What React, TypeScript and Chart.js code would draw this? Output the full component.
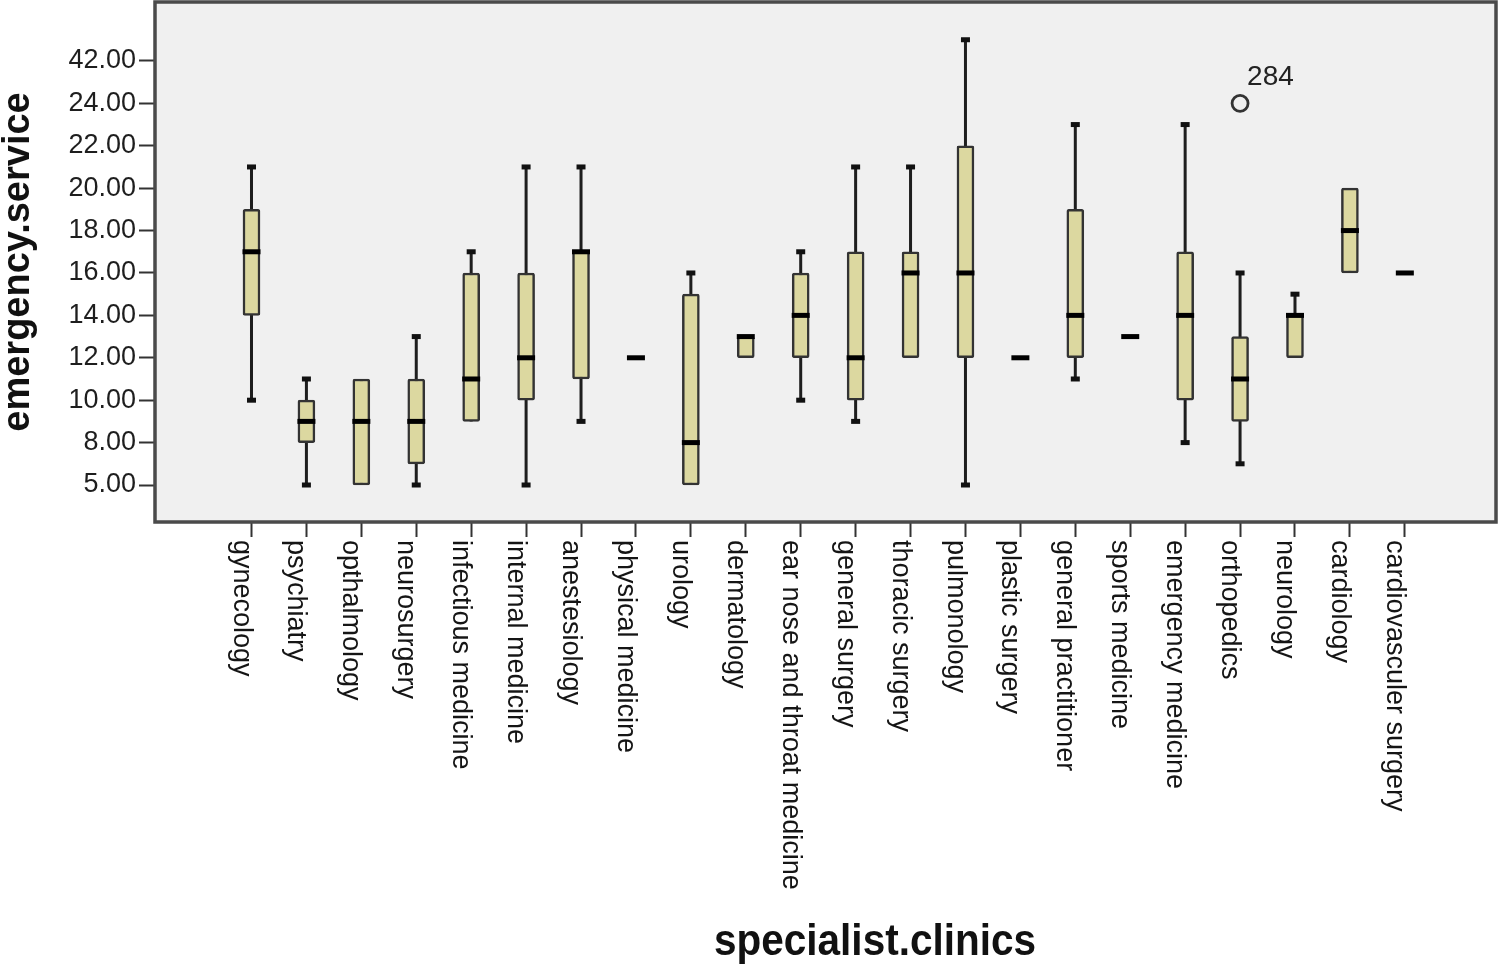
import React, { useEffect, useRef } from "react";
import { Chart, registerables } from "chart.js";

Chart.register(...registerables);

const CATEGORIES = [
  "gynecology",
  "psychiatry",
  "opthalmology",
  "neurosurgery",
  "infectious medicine",
  "internal medicine",
  "anestesiology",
  "physical medicine",
  "urology",
  "dermatology",
  "ear nose and throat medicine",
  "general surgery",
  "thoracic surgery",
  "pulmonology",
  "plastic surgery",
  "general practitioner",
  "sports medicine",
  "emergency medicine",
  "orthopedics",
  "neurology",
  "cardiology",
  "cardiovasculer surgery",
];

// Values are positions on the value axis (tick "5.00" sits at 6, "8.00".."24.00" at 8..24, "42.00" at 26)
const WHISKER_LOW = [10, 6, 6, 6, 9, 6, 9, 12, 6, 12, 10, 9, 12, 6, 12, 11, 13, 8, 7, 12, 16, 16];
const Q1 = [14, 8, 6, 7, 9, 10, 11, 12, 6, 12, 12, 10, 12, 12, 12, 12, 13, 10, 9, 12, 16, 16];
const MEDIAN = [17, 9, 9, 9, 11, 12, 17, 12, 8, 13, 14, 12, 16, 16, 12, 14, 13, 14, 11, 14, 18, 16];
const Q3 = [19, 10, 11, 11, 16, 16, 17, 12, 15, 13, 16, 17, 17, 22, 12, 19, 13, 17, 13, 14, 20, 16];
const WHISKER_HIGH = [21, 11, 11, 13, 17, 21, 21, 12, 16, 13, 17, 21, 21, 27, 12, 23, 13, 23, 16, 15, 20, 16];

const OUTLIER_CATEGORY = [18];
const OUTLIER_VALUE = [24];
const OUTLIER_LABELS = ["284"];

const Y_TICK_POS = [6, 8, 10, 12, 14, 16, 18, 20, 22, 24, 26];
const Y_TICK_LABELS = ["5.00", "8.00", "10.00", "12.00", "14.00", "16.00", "18.00", "20.00", "22.00", "24.00", "42.00"];

const X_TITLE = "specialist.clinics";
const Y_TITLE = "emergency.service";

const FONT = "'Liberation Sans', Arial, sans-serif";

export default function App() {
  const canvasRef = useRef<HTMLCanvasElement | null>(null);

  useEffect(() => {
    const canvas = canvasRef.current;
    if (!canvas) return;

    const whiskerData: any[] = [];
    const capData: any[] = [];
    CATEGORIES.forEach((_, i) => {
      whiskerData.push({ x: i, y: WHISKER_LOW[i] });
      whiskerData.push({ x: i, y: WHISKER_HIGH[i] });
      whiskerData.push({ x: i, y: null });
      if (WHISKER_LOW[i] < Q1[i]) capData.push({ x: i, y: WHISKER_LOW[i] });
      if (WHISKER_HIGH[i] > Q3[i]) capData.push({ x: i, y: WHISKER_HIGH[i] });
    });

    const decor = {
      id: "decor",
      beforeDatasetsDraw(chart: any) {
        const { ctx, chartArea } = chart;
        ctx.save();
        ctx.fillStyle = "#f0f0f0";
        ctx.fillRect(chartArea.left, chartArea.top, chartArea.right - chartArea.left, chartArea.bottom - chartArea.top);
        ctx.restore();
      },
      afterDraw(chart: any) {
        const { ctx, chartArea, scales } = chart;
        const xs = scales.x;
        const ys = scales.y;
        ctx.save();
        // frame
        ctx.strokeStyle = "#4a4a4a";
        ctx.lineWidth = 3.5;
        ctx.strokeRect(chartArea.left, chartArea.top, chartArea.right - chartArea.left, chartArea.bottom - chartArea.top);

        // category labels, rotated clockwise
        ctx.fillStyle = "#151515";
        ctx.font = `27px ${FONT}`;
        ctx.textAlign = "left";
        ctx.textBaseline = "top";
        CATEGORIES.forEach((label, i) => {
          const x = xs.getPixelForValue(i);
          ctx.save();
          ctx.translate(x + 3, chartArea.bottom + 18);
          ctx.rotate(Math.PI / 2);
          ctx.fillText(label, 0, 0);
          ctx.restore();
        });

        // x title
        ctx.font = `bold 45px ${FONT}`;
        ctx.textAlign = "center";
        ctx.textBaseline = "alphabetic";
        ctx.fillStyle = "#111";
        ctx.fillText(X_TITLE, 875, 955, 322);

        // outlier labels
        ctx.font = `28px ${FONT}`;
        ctx.textAlign = "left";
        ctx.fillStyle = "#222";
        OUTLIER_LABELS.forEach((t, k) => {
          const px = xs.getPixelForValue(OUTLIER_CATEGORY[k]);
          const py = ys.getPixelForValue(OUTLIER_VALUE[k]);
          ctx.fillText(t, px + 7, py - 18);
        });
        ctx.restore();
      },
    };

    const chart = new Chart(canvas, {
      type: "bar",
      data: {
        datasets: [
          {
            type: "line",
            data: whiskerData,
            borderColor: "#1e1e1e",
            borderWidth: 3,
            pointRadius: 0,
            pointHoverRadius: 0,
            spanGaps: false,
            order: 4,
          } as any,
          {
            type: "bar",
            data: CATEGORIES.map((_, i) => ({ x: i, y: [Q1[i], Q3[i]] })),
            backgroundColor: "#dcd8a0",
            borderColor: "#333333",
            borderWidth: 2.5,
            borderSkipped: false,
            borderRadius: 2,
            barThickness: 17,
            order: 3,
          } as any,
          {
            type: "scatter",
            data: capData,
            pointStyle: "line",
            pointRadius: 4.5,
            pointBorderWidth: 5,
            pointBorderColor: "#111",
            showLine: false,
            order: 2,
          } as any,
          {
            type: "scatter",
            data: CATEGORIES.map((_, i) => ({ x: i, y: MEDIAN[i] })),
            pointStyle: "line",
            pointRadius: 9,
            pointBorderWidth: 5,
            pointBorderColor: "#000",
            showLine: false,
            order: 1,
          } as any,
          {
            type: "scatter",
            data: OUTLIER_CATEGORY.map((c, k) => ({ x: c, y: OUTLIER_VALUE[k] })),
            pointStyle: "circle",
            pointRadius: 8,
            pointBorderWidth: 2.8,
            pointBorderColor: "#333",
            pointBackgroundColor: "rgba(0,0,0,0)",
            showLine: false,
            order: 0,
          } as any,
        ],
      },
      options: {
        animation: false,
        responsive: false,
        events: [],
        layout: { autoPadding: false, padding: { top: 2, right: 7, bottom: 0, left: 0 } },
        plugins: { legend: { display: false }, tooltip: { enabled: false } },
        scales: {
          x: {
            type: "linear",
            min: -1.757,
            max: 22.66,
            offset: false,
            grid: {
              offset: false,
              drawOnChartArea: false,
              drawTicks: true,
              tickLength: 15,
              tickColor: "#333",
              tickWidth: 2,
            },
            border: { display: false },
            ticks: { display: false },
            afterBuildTicks: (scale: any) => {
              scale.ticks = CATEGORIES.map((_, i) => ({ value: i }));
            },
            afterFit: (scale: any) => {
              scale.height = 451;
              scale.paddingLeft = 0;
              scale.paddingRight = 0;
            },
          },
          y: {
            type: "linear",
            min: 4.255,
            max: 28.78,
            grid: {
              drawOnChartArea: false,
              drawTicks: true,
              tickLength: 16,
              tickColor: "#333",
              tickWidth: 2,
            },
            border: { display: false },
            ticks: {
              autoSkip: false,
              padding: 3,
              color: "#1e1e1e",
              font: { family: FONT, size: 27 },
              callback: (value: any) => {
                const idx = Y_TICK_POS.indexOf(Number(value));
                return idx >= 0 ? Y_TICK_LABELS[idx] : "";
              },
            },
            afterBuildTicks: (scale: any) => {
              scale.ticks = Y_TICK_POS.map((v) => ({ value: v }));
            },
            afterFit: (scale: any) => {
              scale.width = 155;
              scale.paddingTop = 0;
              scale.paddingBottom = 0;
            },
            title: {
              display: true,
              text: Y_TITLE,
              color: "#111",
              padding: 0,
              font: { family: FONT, size: 38, weight: "bold", lineHeight: 1 },
            },
          },
        },
      },
      plugins: [decor],
    });

    return () => {
      chart.destroy();
    };
  }, []);

  return (
    <div style={{ position: "fixed", left: 0, top: 0, width: 1503, height: 973, background: "#fff" }}>
      <canvas ref={canvasRef} width={1503} height={973} style={{ display: "block" }} />
    </div>
  );
}
